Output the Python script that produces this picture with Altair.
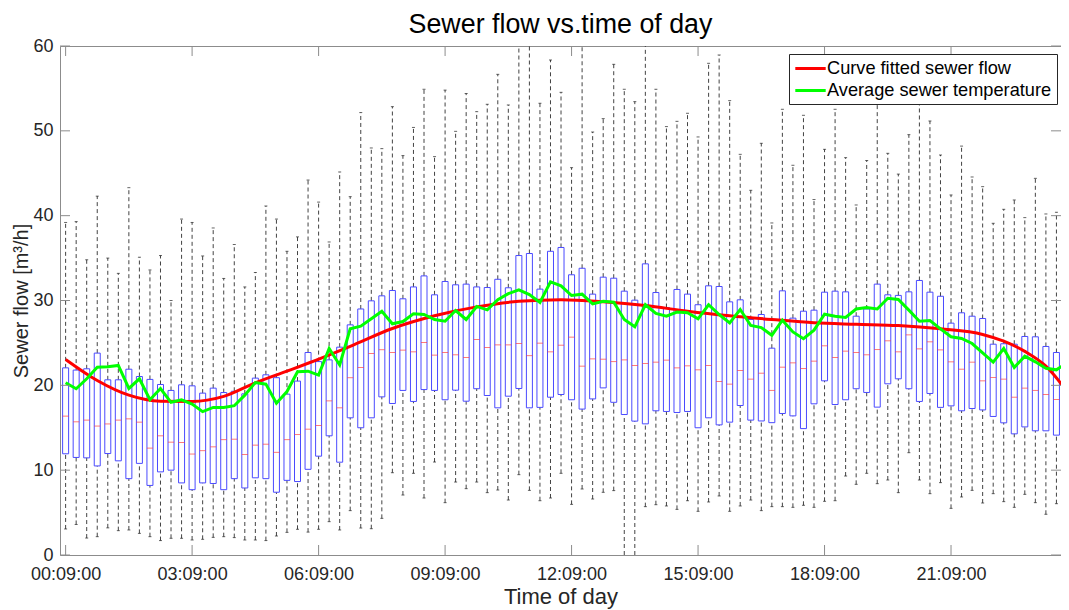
import altair as alt
import pandas as pd

# ---- data (values in m3/h) ----
n_boxes = 96
t_min = [9 + 15 * k for k in range(n_boxes)]  # box positions: 00:09, 00:24, ... 23:54

q3 = [22.06, 21.8, 21.95, 23.8, 20.65, 20.65, 21.9, 21.04, 20.7, 20.1,
      19.4, 20.06, 19.94, 19.08, 19.67, 19.15, 19.3, 19.0, 20.85, 21.24,
      20.9, 18.96, 20.5, 23.87, 22.8, 23.0, 24.5, 27.13, 29.0, 29.96,
      30.55, 31.18, 30.2, 31.6, 32.9, 30.67, 32.24, 31.85, 31.93, 31.6,
      31.53, 32.5, 31.5, 35.3, 35.54, 31.34, 35.8, 36.25, 33.03, 33.8,
      30.75, 32.75, 32.63, 31.1, 30.04, 34.32, 30.94, 29.17, 31.3, 30.75,
      29.5, 31.73, 31.65, 29.84, 30.08, 27.76, 28.35, 24.38, 31.14, 27.92,
      28.74, 28.86, 30.98, 31.1, 31.02, 28.15, 29.0, 31.93, 30.67, 30.6,
      31.02, 32.36, 30.98, 30.5, 27.33, 28.55, 28.15, 27.88, 24.85, 24.9,
      24.85, 25.76, 25.72, 24.58, 23.87, 24.5]

q1 = [11.93, 11.5, 11.45, 10.5, 11.96, 11.1, 9.0, 10.8, 8.2, 9.8,
      10.0, 8.5, 7.7, 8.5, 8.43, 7.7, 9.0, 7.9, 9.1, 9.0,
      7.4, 8.8, 8.66, 10.1, 11.65, 14.05, 10.94, 16.17, 15.0, 16.17,
      18.64, 17.86, 19.4, 18.1, 19.5, 19.4, 18.3, 19.43, 18.13, 19.6,
      18.8, 17.35, 18.72, 19.63, 17.35, 17.4, 18.6, 18.92, 18.3, 17.2,
      18.4, 19.7, 18.0, 16.56, 15.78, 15.46, 17.0, 16.92, 16.8, 16.92,
      15.0, 16.17, 15.34, 15.66, 17.62, 15.9, 15.8, 15.6, 16.68, 16.4,
      14.9, 17.82, 20.53, 17.74, 18.3, 19.6, 19.16, 17.43, 20.18, 20.77,
      19.6, 18.1, 19.04, 17.4, 17.58, 17.0, 17.27, 17.1, 16.33, 15.58,
      14.28, 15.1, 14.64, 14.64, 14.13, 14.28]

median = [16.37, 15.7, 15.9, 15.2, 15.45, 15.9, 16.05, 15.66, 12.6, 14.05,
          13.3, 13.26, 11.9, 12.3, 12.75, 13.6, 13.65, 11.85, 12.95, 13.06,
          12.1, 13.6, 14.2, 14.83, 15.26, 18.17, 17.35, 20.9, 22.1, 23.75,
          24.2, 23.87, 24.15, 23.95, 25.05, 23.56, 23.87, 23.6, 23.28, 25.4,
          24.46, 24.77, 24.77, 24.93, 23.5, 24.97, 23.95, 24.73, 25.68, 22.26,
          23.12, 23.08, 22.8, 23.0, 22.34, 22.57, 22.73, 22.97, 22.06, 22.3,
          21.83, 22.34, 20.45, 20.14, 21.75, 20.73, 21.43, 19.4, 22.14, 22.65,
          21.98, 22.85, 24.66, 23.28, 24.03, 23.87, 23.6, 24.22, 25.25, 23.95,
          25.95, 24.3, 25.13, 24.18, 22.77, 21.9, 22.73, 20.53, 20.92, 20.73,
          18.6, 19.67, 19.4, 18.92, 18.33, 18.3]

whisk_hi = [39.2, 39.3, 34.8, 42.3, 35.0, 33.2, 43.3, 35.1, 33.6, 35.3,
            30.0, 39.6, 39.2, 35.25, 38.55, 32.6, 36.6, 31.6, 33.3, 41.14,
            39.6, 35.8, 37.5, 44.2, 41.6, 36.9, 45.15, 42.24, 52.15, 47.98,
            47.9, 52.85, 47.08, 50.4, 54.9, 46.96, 54.8, 49.94, 54.4, 52.26,
            53.13, 56.66, 53.05, 62.0, 62.0, 53.25, 58.35, 54.54, 45.66, 62.0,
            49.86, 51.44, 57.84, 54.9, 53.44, 62.0, 54.9, 50.5, 51.12, 52.07,
            49.28, 57.96, 58.94, 53.56, 47.23, 42.99, 48.53, 39.14, 52.54, 45.94,
            51.83, 41.9, 47.82, 52.54, 46.84, 41.26, 46.5, 55.0, 47.35, 44.9,
            49.55, 56.0, 51.16, 47.15, 42.44, 48.2, 44.56, 43.42, 39.1, 40.75,
            41.85, 39.77, 44.4, 40.2, 40.4, 40.6]

whisk_lo = [3.07, 3.6, 2.0, 2.16, 3.2, 2.87, 2.95, 2.55, 2.16, 1.7,
            1.97, 1.97, 1.77, 1.85, 2.08, 2.16, 2.05, 1.77, 1.77, 1.7,
            2.24, 2.67, 3.03, 2.7, 3.03, 3.93, 2.95, 5.23, 3.18, 3.1,
            4.32, 9.7, 7.07, 9.63, 6.72, 10.96, 6.17, 8.6, 7.82, 8.6,
            7.35, 7.66, 6.48, 9.47, 7.62, 6.4, 6.72, 9.63, 5.97, 7.78,
            6.6, 7.39, 7.59, -0.5, -0.5, 5.7, 5.93, 5.78, 5.38, 6.4,
            5.15, 6.25, 6.96, 5.15, 5.78, 6.48, 5.23, 5.7, 5.7, 5.62,
            5.86, 5.62, 6.33, 6.4, 9.31, 8.33, 9.63, 8.41, 8.84, 7.35,
            12.06, 8.84, 7.23, 8.53, 5.5, 6.84, 7.62, 6.13, 7.23, 6.29,
            5.62, 7.15, 6.17, 4.8, 6.05, 5.23]

avg_temp = [20.3, 19.6, 20.77, 22.14, 22.18, 22.34, 19.63, 20.77, 18.3, 19.63,
            18.0, 18.3, 17.8, 16.9, 17.4, 17.4, 17.6, 18.84, 20.33, 20.14,
            17.9, 19.27, 21.6, 21.67, 21.2, 24.34, 22.4, 26.66, 26.97, 27.84,
            28.74, 27.25, 27.52, 28.43, 28.35, 27.76, 27.56, 28.82, 27.76, 29.3,
            28.9, 30.1, 30.8, 31.26, 30.7, 29.76, 32.2, 31.73, 30.59, 30.75,
            29.6, 29.92, 29.8, 27.76, 26.9, 29.5, 28.47, 28.15, 28.63, 28.55,
            27.84, 29.5, 28.35, 27.37, 28.94, 27.05, 26.8, 25.9, 27.68, 26.3,
            25.5, 26.5, 28.39, 28.15, 28.0, 29.0, 29.17, 29.0, 30.27, 30.12,
            28.86, 27.56, 27.64, 26.66, 25.72, 25.52, 24.93, 23.83, 22.73, 24.34,
            22.1, 23.44, 22.77, 22.02, 21.83, 22.65]

# fitted curve read at selected box positions (box index)
fit_idx = [0, 3, 6, 9, 12, 15, 18, 21, 23, 27, 31, 35, 39, 43, 47, 51, 55,
           59, 63, 67, 71, 75, 79, 83, 87, 89, 91, 93, 95]
fit_val = [23.05, 20.57, 18.84, 18.13, 18.1, 18.7, 20.3, 21.67, 22.6, 24.6,
           26.7, 28.2, 29.25, 29.9, 30.08, 29.84, 29.4, 28.74, 28.2, 27.76,
           27.37, 27.2, 27.05, 26.66, 26.0, 25.2, 24.0, 22.26, 19.3]

tick_minutes = [9, 189, 369, 549, 729, 909, 1089, 1269]
tick_labels = ["00:09:00", "03:09:00", "06:09:00", "09:09:00",
               "12:09:00", "15:09:00", "18:09:00", "21:09:00"]
y_ticks = [0, 10, 20, 30, 40, 50, 60]

series_names = ["Curve fitted sewer flow", "Average sewer temperature"]

# ---- tables ----
boxes = pd.DataFrame({"t": t_min, "q1": q1, "q3": q3, "med": median,
                      "lo": whisk_lo, "hi": whisk_hi})
fit_df = pd.DataFrame({"t": [t_min[i] for i in fit_idx], "v": fit_val,
                       "s": series_names[0]})
temp_df = pd.DataFrame({"t": t_min, "v": avg_temp, "s": series_names[1]})
xt_df = pd.DataFrame({"t": tick_minutes})
yt_df = pd.DataFrame({"y": y_ticks})

W, H = 1001, 509
FONT = "Liberation Sans"
FRAME = "#8c8c8c"
TXT = "#262626"

label_expr = "[" + ",".join(f"'{s}'" for s in tick_labels) + "][indexof([" + \
    ",".join(str(v) for v in tick_minutes) + "], datum.value)]"

xscale = alt.Scale(domain=[1, 1425.5], nice=False, zero=False, padding=0)
yscale = alt.Scale(domain=[0, 60], nice=False, zero=False, padding=0,
                   clamp=True)

x_axis = alt.Axis(values=tick_minutes, labelExpr=label_expr, grid=False,
                  ticks=False, domain=False, labelFontSize=18, labelFont=FONT,
                  labelColor=TXT, labelPadding=10, title="Time of day",
                  titleFont=FONT, titleFontSize=22, titleFontWeight="normal",
                  titleColor=TXT, titlePadding=3, labelFlush=False)
y_axis = alt.Axis(values=y_ticks, grid=False, ticks=False, domain=False,
                  labelFontSize=18, labelFont=FONT, labelColor=TXT,
                  labelPadding=7, title="Sewer flow [m³/h]", titleFont=FONT,
                  titleFontSize=20, titleFontWeight="normal",
                  titleColor=TXT, titlePadding=1)


def X():
    return alt.X("t:Q", scale=xscale, axis=x_axis)


def Y(field):
    return alt.Y(field, type="quantitative", scale=yscale, axis=y_axis)


base_box = alt.Chart(boxes)
WHISK = dict(color="#222222", strokeWidth=1, strokeDash=[4, 3], opacity=0.85,
             clip=True)

whisk_up = base_box.mark_rule(**WHISK).encode(x=X(), y=Y("q3"), y2="hi:Q")
whisk_dn = base_box.mark_rule(**WHISK).encode(x=X(), y=Y("lo"), y2="q1:Q")
cap_hi = base_box.transform_filter("datum.hi <= 60").mark_tick(
    orient="horizontal", color="#222222", size=3, thickness=1,
    clip=True).encode(x=X(), y=Y("hi"))
cap_lo = base_box.transform_filter("datum.lo >= 0").mark_tick(
    orient="horizontal", color="#222222", size=3, thickness=1,
    clip=True).encode(x=X(), y=Y("lo"))
box_rect = base_box.mark_bar(size=6, fill="white", fillOpacity=0,
                             stroke="#4a4aff", strokeWidth=1, clip=True).encode(
    x=X(), y=Y("q1"), y2="q3:Q")
med_tick = base_box.mark_tick(orient="horizontal", color="#ff4040", size=6,
                              thickness=1, clip=True).encode(x=X(), y=Y("med"))

color = alt.Color("s:N", scale=alt.Scale(domain=series_names,
                                         range=["#ff0000", "#00ff00"]),
                  legend=alt.Legend(orient="none", legendX=729, legendY=8,
                                    title=None,
                                    symbolType="M-1.9,0L1.9,0",
                                    symbolStrokeWidth=3, symbolSize=256,
                                    symbolOffset=7,
                                    labelFont=FONT, labelFontSize=18.2,
                                    labelColor="#000000", labelOffset=7,
                                    fillColor="white", strokeColor=TXT,
                                    padding=5, rowPadding=3,
                                    labelLimit=400))

fit_line = alt.Chart(fit_df).mark_line(strokeWidth=3, interpolate="monotone",
                                       clip=True).encode(
    x=X(), y=Y("v"), color=color)
temp_line = alt.Chart(temp_df).mark_line(strokeWidth=3, clip=True).encode(
    x=X(), y=Y("v"), color=color)

# inward ticks (MATLAB style) on all four sides
tick_b = alt.Chart(xt_df).mark_rule(color=FRAME, strokeWidth=1).encode(
    x=X(), y=alt.value(H), y2=alt.value(H - 10))
tick_t = alt.Chart(xt_df).mark_rule(color=FRAME, strokeWidth=1).encode(
    x=X(), y=alt.value(0), y2=alt.value(10))
tick_l = alt.Chart(yt_df).mark_rule(color=FRAME, strokeWidth=1).encode(
    y=Y("y"), x=alt.value(0), x2=alt.value(10))
tick_r = alt.Chart(yt_df).mark_rule(color=FRAME, strokeWidth=1).encode(
    y=Y("y"), x=alt.value(W), x2=alt.value(W - 10))

chart = alt.layer(
    whisk_up, whisk_dn, cap_hi, cap_lo, box_rect, med_tick,
    fit_line, temp_line, tick_b, tick_t, tick_l, tick_r
).properties(
    width=W, height=H,
    title=alt.TitleParams("Sewer flow vs.time of day", font=FONT, fontSize=26.8,
                          fontWeight="normal", color="#000000", anchor="middle",
                          offset=-2),
    autosize=alt.AutoSizeParams(type="none"),
    padding={"left": 52, "top": 38, "right": 0, "bottom": 55},
    background="white",
).configure_view(stroke=FRAME, strokeWidth=1)

chart.save("out.html", embed_options={"renderer": "svg", "actions": False})
